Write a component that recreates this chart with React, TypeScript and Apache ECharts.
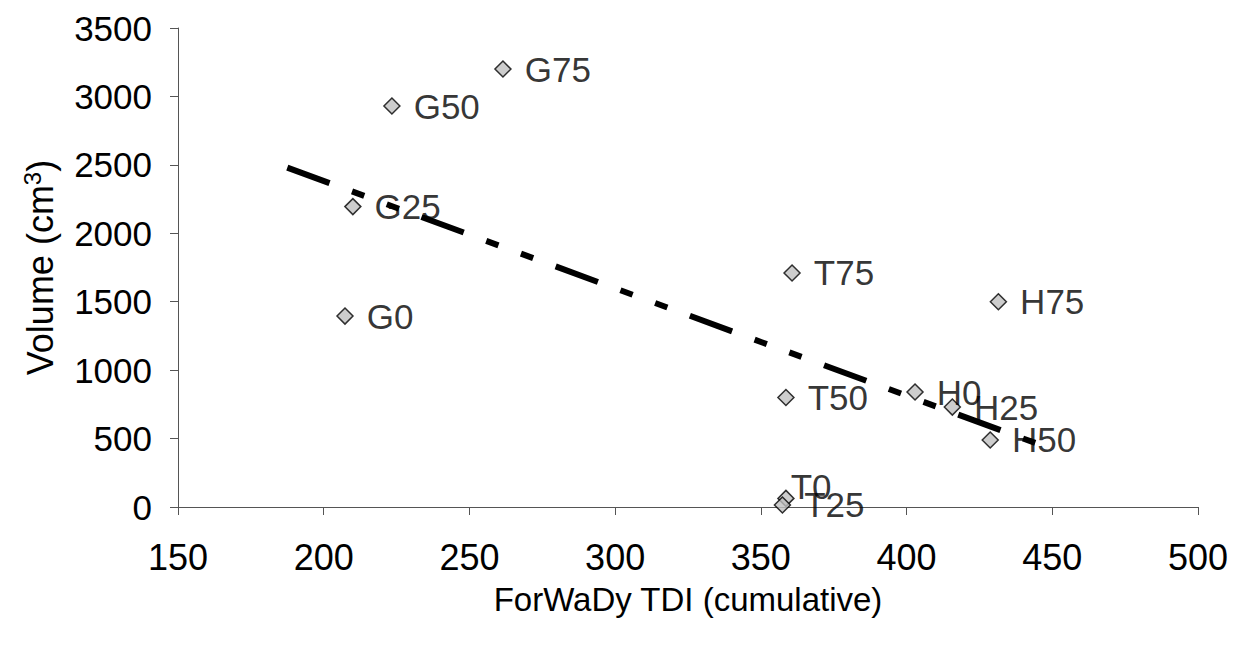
import React, { useEffect, useRef } from "react";
import * as echarts from "echarts";

const pointLabels = ["G0", "G25", "G50", "G75", "T0", "T25", "T50", "T75", "H0", "H25", "H50", "H75"];
const tdiValues = [207.3, 210, 223.4, 261.5, 358.6, 357.4, 358.6, 360.7, 402.9, 415.7, 428.7, 431.5];
const volumeValues = [1395, 2195, 2930, 3200, 63, 15, 800, 1710, 840, 730, 490, 1500];

const trendX = [187.5, 449];
const trendY = [2480, 430];

const xTicks = [150, 200, 250, 300, 350, 400, 450, 500];
const yTicks = [0, 500, 1000, 1500, 2000, 2500, 3000, 3500];

const FONT = "'Liberation Sans', Arial, sans-serif";

export default function App() {
  const ref = useRef<HTMLDivElement>(null);
  useEffect(() => {
    if (!ref.current) return;
    const chart = echarts.init(ref.current, undefined, { renderer: "svg" });
    const axisLine = { show: true, lineStyle: { color: "#555", width: 1 } };
    const axisTick = { show: true, inside: false, length: 8, lineStyle: { color: "#555", width: 1 } };
    const scatterData = pointLabels.map((name, i) => {
      const d: any = { name, value: [tdiValues[i], volumeValues[i]] };
      if (name === "T0") d.label = { position: "right", distance: 0, offset: [-4, -12] };
      return d;
    });
    chart.setOption({
      animation: false,
      grid: { left: 178, right: 43, top: 28, bottom: 139, containLabel: false },
      xAxis: {
        type: "value",
        min: xTicks[0],
        max: xTicks[xTicks.length - 1],
        interval: 50,
        name: "ForWaDy TDI (cumulative)",
        nameLocation: "middle",
        nameGap: 76,
        axisLine,
        axisTick,
        splitLine: { show: false },
        axisLabel: { color: "#000", fontSize: 36, fontFamily: FONT, margin: 32, formatter: (v: number) => String(v) },
        nameTextStyle: { color: "#000", fontSize: 33, fontFamily: FONT },
      },
      yAxis: {
        type: "value",
        min: yTicks[0],
        max: yTicks[yTicks.length - 1],
        interval: 500,
        name: "Volume (cm{sup|3})",
        nameLocation: "middle",
        nameGap: 118,
        axisLine,
        axisTick,
        splitLine: { show: false },
        axisLabel: { color: "#000", fontSize: 35, fontFamily: FONT, margin: 26, formatter: (v: number) => String(v) },
        nameTextStyle: {
          color: "#000",
          fontSize: 36,
          fontFamily: FONT,
          rich: {
            sup: { fontSize: 24, fontFamily: FONT, color: "#000", verticalAlign: "top", padding: [0, 0, 16, 0] },
          },
        },
      },
      series: [
        {
          type: "line",
          data: trendX.map((x, i) => [x, trendY[i]]),
          symbol: "none",
          lineStyle: { color: "#000", width: 6, type: [45, 24, 13, 24, 13, 24], cap: "butt" },
          z: 1,
          silent: true,
        },
        {
          type: "scatter",
          data: scatterData,
          symbol: "diamond",
          symbolSize: 16,
          itemStyle: { color: "#c0c0c0", borderColor: "#000", borderWidth: 1.5 },
          label: {
            show: true,
            position: "right",
            distance: 13,
            formatter: (p: any) => p.name,
            color: "#000",
            fontSize: 35,
            fontFamily: FONT,
          },
          z: 2,
        },
      ],
    });
    return () => chart.dispose();
  }, []);
  return (
    <div
      ref={ref}
      style={{ position: "fixed", left: 0, top: 0, width: 1241, height: 646, background: "#fff" }}
    />
  );
}
